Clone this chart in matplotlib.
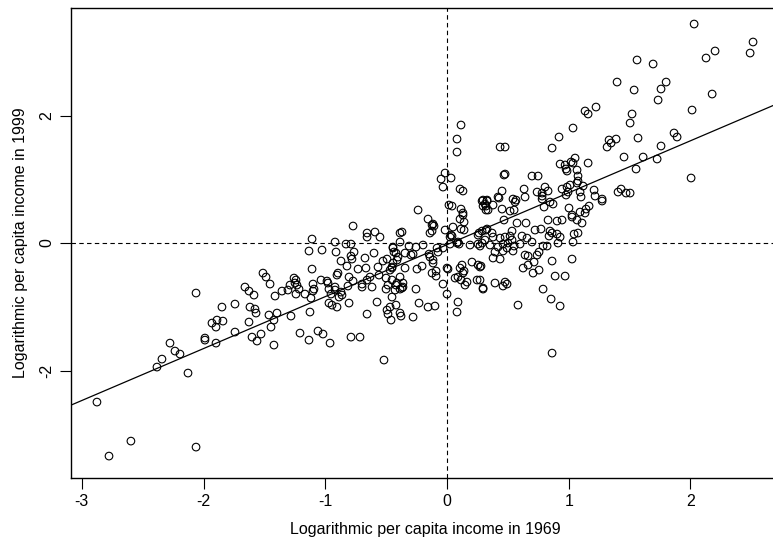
import numpy as np
import matplotlib
matplotlib.use("Agg")
import matplotlib.pyplot as plt

# Standardised log per capita income, 1969 (x) and 1999 (y)
income_1969 = [
    -2.276, -2.235, -2.194, -2.342, -2.383, -2.128, -1.898, -1.989, -2.876, -2.597, -2.777, -2.062,
    -2.062, -1.512, -1.487, -1.454, -1.660, -1.627, -1.586, -1.413, -1.356, -1.307, -1.290, -1.257,
    -1.249, -1.241, -1.849, -1.742, -1.619, -1.578, -1.569, -1.463, -1.397, -1.422, -1.282, -1.446,
    -1.931, -1.890, -1.898, -1.841, -1.627, -1.989, -1.742, -1.602, -1.561, -1.528, -1.422, -1.208,
    -0.772, -0.657, -0.657, -0.592, -0.551, -0.386, -1.109, -0.920, -0.830, -0.789, -1.134, -1.027,
    -0.912, -0.764, -0.789, -0.781, -0.871, -0.674, -0.600, -0.444, -0.436, -0.403, -0.411, -0.493,
    -0.526, -0.822, -0.731, -0.666, -0.567, -1.109, -0.896, -0.904, -0.468, -0.452, -0.805, -0.772,
    -0.633, -0.657, -0.559, -0.501, -0.452, -0.386, -1.035, -0.986, -0.978, -0.920, -0.698, -0.698,
    -0.616, -0.814, -0.501, -0.419, -0.427, -1.241, -1.233, -1.216, -1.101, -1.093, -1.101, -1.167,
    -0.970, -0.953, -0.920, -0.871, -0.887, -0.863, -1.118, -0.970, -0.945, -0.904, -0.805, -0.575,
    -0.485, -0.468, -0.419, -1.126, -0.657, -0.493, -0.485, -0.386, -0.386, -0.452,
    -0.460, -0.378, -0.279, -0.230, -0.156, -0.099, -1.134, -1.060, -1.019, -0.961, -0.789, -0.715,
    -0.518,
    0.115, 0.082, 0.082, -0.016, -0.049, -0.033, 0.033, 0.107, 0.131, -0.238, 0.016, 0.041,
    0.115, 0.131, 0.131, 0.107, 0.140, 0.288, 0.329, 0.296, 0.320, 0.337, -0.156, -0.123,
    -0.115, -0.107, -0.140, -0.123, -0.370, -0.016, 0.049, 0.033, 0.025, 0.115, 0.140, 0.090,
    0.099, 0.189, 0.263, 0.255, 0.329, -0.386, -0.312, -0.255, -0.197, -0.082, -0.033, -0.444,
    0.041, 0.271,
    -0.419, -0.345, -0.296, -0.279, -0.148, -0.140, -0.115, -0.115, -0.074, 0.025, 0.082, 0.255,
    0.288, -0.444, -0.452, -0.345, -0.247, -0.205, -0.123, -0.090, -0.090, 0.000, 0.008, 0.123,
    0.107, 0.140, 0.131, 0.205, 0.255, 0.271, 0.066, 0.090, 0.115, 0.164, 0.148, 0.247,
    0.296, -0.033, 0.000, -0.411, -0.362, -0.362, -0.370, -0.255, 0.090, 0.082,
    1.035, 0.920, 0.436, 0.477, 0.863, 0.468, 0.477, 0.698, 0.748, 0.929, 0.970, 1.019,
    1.035, 0.978, 0.986, 1.068, 1.076, 0.805, 0.830, 0.781, 0.740, 0.633, 0.641, 0.452,
    0.419, 0.427, 0.542, 0.567, 0.559, 0.945, 0.986, 0.994, 0.978, 1.011, 1.068, 0.781,
    0.781, 0.846, 0.797, 0.871, 1.002, 0.296, 0.329, 0.312, 0.320, 0.378, 0.452, 0.518,
    0.551, 1.027, 1.068, 0.468, 0.575, 0.649, 0.830, 0.904, 0.945, 0.723, 0.772, 0.846,
    0.863, 0.288, 0.320, 0.370, 0.534, 0.518, 0.616, 0.657, 0.436, 0.477, 0.929, 1.076,
    0.312, 0.353, 0.378, 0.419, 0.460, 0.501, 0.534, 0.493, 0.551, 0.600, 0.698, 0.838,
    0.904, 1.044, 1.035, 0.789, 0.822, 0.912, 0.394, 0.378, 0.436, 0.460, 0.542, 0.641,
    0.666, 0.756, 0.740, 0.715, 0.666, 0.625, 0.707, 0.756, 0.863, 1.027, 0.279, 0.888,
    0.970, 0.394, 0.477, 0.460, 0.493, 0.296, 0.271, 0.789, 0.855, 0.929, 0.583, 0.863,
    1.561, 1.693, 1.397, 1.537, 1.800, 1.758, 1.734, 1.134, 1.159, 1.224, 1.520, 1.504,
    1.865, 1.890, 1.569, 1.331, 1.348, 1.315, 1.389, 1.758, 1.454, 1.611, 1.726, 1.553,
    1.159, 1.052, 1.076, 1.118, 1.093, 1.101, 1.208, 1.216, 1.274, 1.405, 1.430, 1.471,
    1.504, 1.167, 1.142, 1.134, 1.093, 1.027, 1.274, 1.109,
    2.030, 2.514, 2.490, 2.202, 2.128, 2.178, 2.013, 2.005,
]
income_1999 = [
    -1.569, -1.694, -1.741, -1.820, -1.945, -2.039, -1.569, -1.522, -2.494, -3.106, -3.341, -3.200,
    -0.784, -0.471, -0.533, -0.643, -0.690, -0.753, -0.816, -0.831, -0.753, -0.737, -0.659, -0.549,
    -0.627, -0.800, -1.004, -0.957, -1.004, -1.035, -1.098, -1.129, -1.098, -1.208, -1.145, -1.318,
    -1.255, -1.208, -1.318, -1.224, -1.239, -1.490, -1.396, -1.475, -1.537, -1.427, -1.600, -1.412,
    0.267, 0.157, 0.094, 0.173, 0.094, 0.157, 0.063, 0.016, -0.016, -0.016, -0.125, -0.110,
    -0.141, -0.141, -0.204, -0.251, -0.282, -0.235, -0.157, -0.078, -0.141, -0.220, -0.267, -0.251,
    -0.282, -0.361, -0.408, -0.392, -0.376, -0.408, -0.471, -0.502, -0.424, -0.376, -0.533, -0.596,
    -0.533, -0.580, -0.502, -0.549, -0.580, -0.533, -0.580, -0.596, -0.627, -0.690, -0.643, -0.690,
    -0.690, -0.674, -0.722, -0.659, -0.737, -0.580, -0.659, -0.722, -0.643, -0.722, -0.753, -0.800,
    -0.722, -0.800, -0.737, -0.769, -0.847, -0.816, -0.863, -0.941, -0.973, -1.004, -0.941, -0.925,
    -0.659, -1.004, -0.973, -1.082, -1.114, -1.051, -1.114, -1.098, -0.722, -0.847,
    -1.208, -1.145, -1.161, -0.941, -1.004, -0.988, -1.522, -1.380, -1.427, -1.569, -1.475, -1.475,
    -1.835,
    1.851, 1.631, 1.427, 1.098, 1.004, 0.878, 1.020, 0.847, 0.816, 0.518, 0.596, 0.580,
    0.533, 0.471, 0.439, 0.376, 0.329, 0.659, 0.659, 0.580, 0.580, 0.518, 0.376, 0.282,
    0.298, 0.267, 0.157, 0.188, 0.173, 0.204, 0.251, 0.125, 0.094, 0.220, 0.204, 0.016,
    -0.016, -0.031, 0.157, 0.125, 0.220, 0.016, -0.047, -0.063, -0.031, -0.078, -0.078, -0.063,
    0.110, -0.047,
    -0.157, -0.157, -0.188, -0.173, -0.173, -0.220, -0.267, -0.314, -0.141, -0.016, 0.000, -0.016,
    0.000, -0.314, -0.392, -0.392, -0.408, -0.361, -0.471, -0.439, -0.518, -0.392, -0.408, -0.345,
    -0.392, -0.439, -0.471, -0.298, -0.345, -0.376, -0.549, -0.533, -0.580, -0.612, -0.659, -0.580,
    -0.706, -0.643, -0.800, -0.627, -0.627, -0.690, -0.706, -0.722, -0.925, -1.082,
    1.804, 1.663, 1.506, 1.506, 1.490, 1.067, 1.082, 1.051, 1.051, 1.239, 1.224, 1.271,
    1.255, 1.161, 1.129, 1.145, 1.051, 0.878, 0.816, 0.784, 0.800, 0.847, 0.722, 0.816,
    0.722, 0.706, 0.690, 0.674, 0.643, 0.847, 0.878, 0.800, 0.753, 0.910, 0.941, 0.737,
    0.690, 0.643, 0.565, 0.612, 0.549, 0.674, 0.674, 0.612, 0.518, 0.596, 0.533, 0.502,
    0.518, 0.408, 0.361, 0.361, 0.314, 0.314, 0.361, 0.345, 0.361, 0.204, 0.220, 0.188,
    0.157, 0.188, 0.204, 0.157, 0.188, 0.110, 0.110, 0.078, 0.078, 0.094, 0.094, 0.157,
    0.047, -0.031, 0.094, -0.063, -0.016, 0.000, 0.047, -0.078, -0.047, -0.016, 0.016, 0.110,
    0.141, 0.141, 0.016, -0.047, -0.047, 0.000, -0.141, -0.235, -0.251, -0.125, -0.125, -0.188,
    -0.204, -0.141, -0.188, -0.298, -0.345, -0.392, -0.471, -0.424, -0.282, -0.251, -0.361, -0.518,
    -0.518, -0.627, -0.612, -0.674, -0.643, -0.722, -0.580, -0.722, -0.878, -0.988, -0.973, -1.726,
    2.871, 2.808, 2.525, 2.400, 2.525, 2.416, 2.243, 2.071, 2.024, 2.133, 2.024, 1.882,
    1.726, 1.663, 1.647, 1.616, 1.569, 1.506, 1.631, 1.522, 1.349, 1.349, 1.318, 1.161,
    1.255, 1.333, 0.973, 0.894, 0.800, 0.722, 0.831, 0.737, 0.690, 0.800, 0.847, 0.784,
    0.784, 0.580, 0.533, 0.471, 0.486, 0.439, 0.659, 0.314,
    3.435, 3.153, 2.980, 3.012, 2.902, 2.337, 2.086, 1.020,
]

x_ticks = [-3, -2, -1, 0, 1, 2]
y_ticks = [-2, 0, 2]

x = np.array(income_1969)
y = np.array(income_1999)

plt.rcParams['font.family'] = ['Liberation Sans', 'DejaVu Sans']

fig = plt.figure(figsize=(7.73, 5.46), dpi=100)
ax = fig.add_axes([0.0922, 0.1251, 0.916, 0.8602])

# reference lines through the origin
ax.axhline(0, color="black", lw=0.8, linestyle=(0, (4, 3)), zorder=1)
ax.axvline(0, color="black", lw=0.8, linestyle=(0, (4, 3)), zorder=1)

# least squares line
slope, intercept = np.polyfit(x, y, 1)
ax.axline((0, intercept), slope=slope, color="black", lw=0.9, zorder=2)

ax.scatter(x, y, s=30, facecolors="none", edgecolors="black", linewidths=0.8, zorder=3)

ax.set_xlim(-3.087, 2.73)
ax.set_ylim(-3.68, 3.686)
ax.set_xticks(x_ticks)
ax.set_yticks(y_ticks)
ax.set_xticklabels([str(t) for t in x_ticks])
ax.set_yticklabels([str(t) for t in y_ticks], rotation=90, va="center")
ax.tick_params(direction="out", length=8, width=0.8, labelsize=11.5, pad=4)
ax.spines["right"].set_visible(False)
for s in ["left", "bottom", "top"]:
    ax.spines[s].set_linewidth(1.0)

ax.set_xlabel("Logarithmic per capita income in 1969", fontsize=11.5, labelpad=9)
ax.set_ylabel("Logarithmic per capita income in 1999", fontsize=11.5, labelpad=8)

fig.savefig("out.png", dpi=100)
